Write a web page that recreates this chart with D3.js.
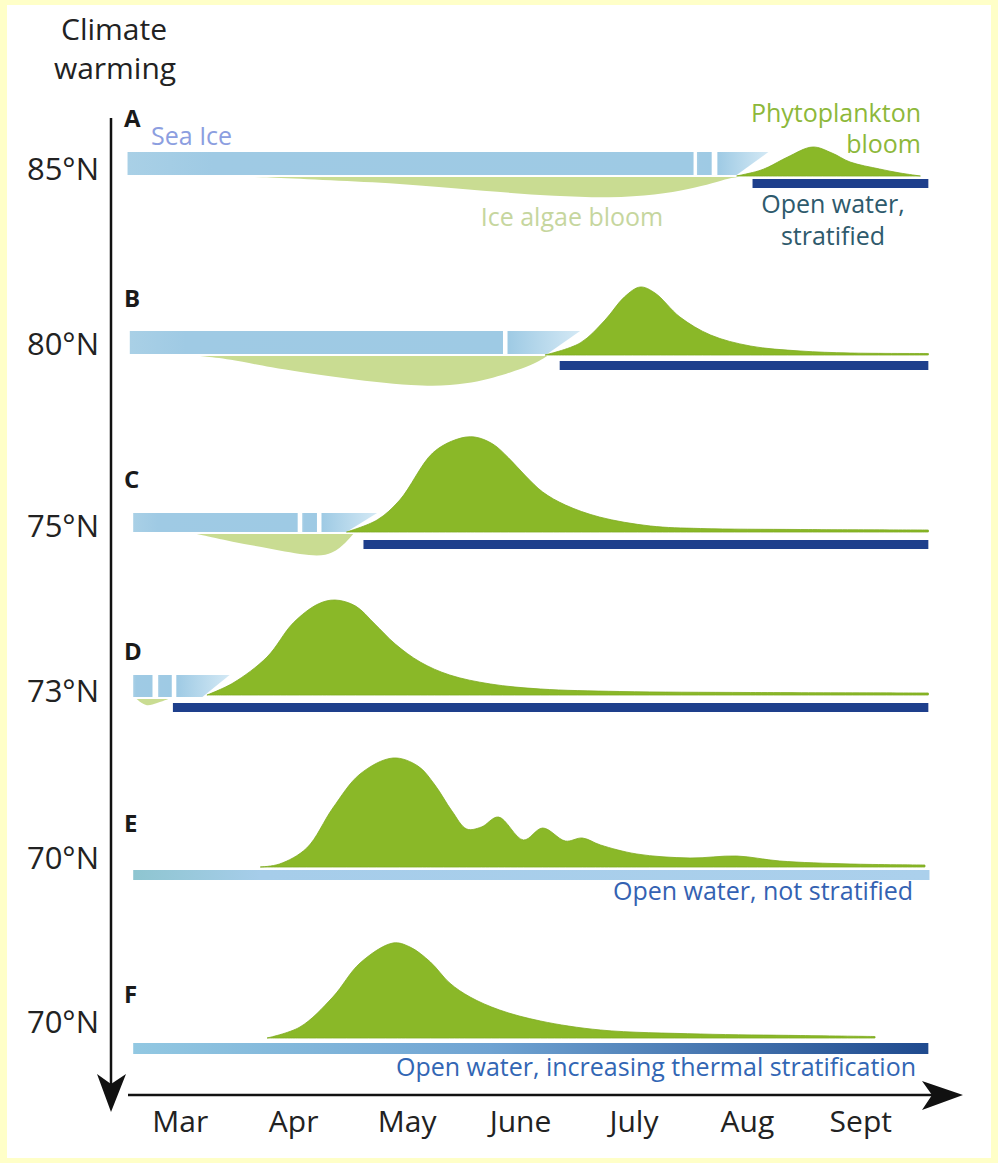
<!DOCTYPE html>
<html>
<head>
<meta charset="utf-8">
<script src="https://cdn.jsdelivr.net/npm/d3@7/dist/d3.min.js"></script>
<style>
body{margin:0;background:#fff;}
svg text{font-family:"Open Sans","DejaVu Sans",sans-serif;}
</style>
</head>
<body>
<div id="chart"></div>
<script>
// months on the time axis, value = months since 1 March
var months=["Mar","Apr","May","June","July","Aug","Sept"];
var panels=["A","B","C","D","E","F"];
var latitudes=["85°N","80°N","75°N","73°N","70°N","70°N"];

// phytoplankton bloom: [month, relative biomass]
var phytoA=[[5.41,0],[5.6,5],[5.69,9],[5.86,19],[6.08,29],[6.25,23],[6.41,14],[6.67,7],[6.85,3],[7.03,0]];
var phytoB=[[3.72,0],[4.03,12],[4.25,35],[4.42,58],[4.56,68],[4.69,62],[4.91,38],[5.18,20],[5.53,9],[5.97,4],[6.41,2],[7.10,1.5]];
var phytoC=[[1.97,0],[2.24,12],[2.44,32],[2.73,79],[2.95,93],[3.1,95],[3.26,88],[3.40,74],[3.55,56],[3.70,40],[3.90,27],[4.20,15],[4.65,6],[5.09,3.5],[5.97,2.5],[7.10,2]];
var phytoD=[[0.74,0],[0.97,12],[1.27,38],[1.50,72],[1.72,91],[1.87,95],[2.05,89],[2.22,71],[2.40,51],[2.62,33],[2.88,20],[3.24,11],[3.68,6],[4.38,3.5],[5.53,2.5],[7.10,2]];
var phytoE=[[1.21,0],[1.38,3],[1.62,19],[1.85,59],[2.09,93],[2.38,109],[2.60,101],[2.75,82],[2.90,56],[3.03,38],[3.16,40],[3.31,50],[3.53,27],[3.70,39],[3.90,26],[4.05,29],[4.21,22],[4.53,13],[5.0,9],[5.41,11],[5.79,6],[6.41,3],[7.07,2]];
var phytoF=[[1.27,0],[1.56,11],[1.85,41],[2.09,75],[2.38,95],[2.53,91],[2.71,76],[2.88,55],[3.06,41],[3.32,28],[3.68,17],[4.21,8],[5.09,4],[5.97,2.5],[6.63,1.5]];

// ice algae bloom under the ice: [month, relative biomass]
var algaeA=[[1.16,0],[1.6,2],[2.2,5],[2.8,10],[3.3,15],[3.8,19],[4.3,21],[4.7,18],[5.0,12],[5.2,6],[5.35,1],[5.42,0]];
var algaeB=[[0.68,0],[0.94,3],[1.27,11],[1.85,21],[2.59,31],[3.03,29],[3.41,17],[3.61,9],[3.74,0]];
var algaeC=[[0.65,0],[0.97,8],[1.27,14],[1.68,23],[1.85,20],[1.97,8],[2.03,0]];
var algaeD=[[0.12,0],[0.2,8],[0.3,4],[0.4,0]];

// sea ice pieces [start, end]; last piece melts: [start, end at top, end at bottom]
var iceA=[[0.04,5.03],[5.06,5.19],[5.24,5.69,5.41]];
var iceB=[[0.06,3.35],[3.39,4.03,3.74]];
var iceC=[[0.09,1.54],[1.58,1.71],[1.75,2.24,1.97]];
var iceD=[[0.09,0.26],[0.31,0.43],[0.47,0.94,0.70]];
var iceE=[];
var iceF=[];

// open water [start, end]
var waterA=[5.55,7.10];
var waterB=[3.85,7.10];
var waterC=[2.12,7.10];
var waterD=[0.44,7.10];
var waterE=[0.09,7.11];
var waterF=[0.09,7.10];

var phyto=[phytoA,phytoB,phytoC,phytoD,phytoE,phytoF];
var algae=[algaeA,algaeB,algaeC,algaeD,[],[]];
var ice=[iceA,iceB,iceC,iceD,iceE,iceF];
var water=[waterA,waterB,waterC,waterD,waterE,waterF];
var waterKind=["strat","strat","strat","strat","mixed","warm"];

// layout of each row (pixels)
var rows=[
	{base:176,iceTop:152,iceBot:175,wTop:179,wBot:188,letterY:127,latY:180},
	{base:355,iceTop:331,iceBot:354,wTop:361,wBot:370,letterY:307,latY:355},
	{base:532,iceTop:513,iceBot:532,wTop:540,wBot:549,letterY:488,latY:537},
	{base:695,iceTop:675,iceBot:697,wTop:703,wBot:712,letterY:660,latY:702},
	{base:867,iceTop:0,iceBot:0,wTop:870,wBot:880,letterY:832,latY:869},
	{base:1038,iceTop:0,iceBot:0,wTop:1043,wBot:1054,letterY:1003,latY:1033}
];

var W=998,H=1163;
var svg=d3.select("#chart").append("svg").attr("width",W).attr("height",H);

// frame
svg.append("rect").attr("width",W).attr("height",H).attr("fill","#ffffc8");
svg.append("rect").attr("x",7).attr("y",5).attr("width",W-14).attr("height",H-10).attr("fill","#fff");

var x=d3.scaleLinear().domain([0,7]).range([123,917]);
var h=d3.scaleLinear().domain([0,100]).range([0,100]);

var defs=svg.append("defs");
function grad(id,stops){
	var g=defs.append("linearGradient").attr("id",id);
	stops.forEach(function(s){
		g.append("stop").attr("offset",s[0]).attr("stop-color",s[1]);
	});
}
grad("iceg",[[0,"#a9d0e6"],[0.15,"#9fcae4"],[1,"#9ecae4"]]);
grad("melt",[[0,"#9ecae4"],[1,"#d4e9f5"]]);
grad("mixed",[[0,"#8ec5d0"],[0.16,"#a6cdea"],[1,"#abd0ec"]]);
grad("warm",[[0,"#92c8e2"],[0.45,"#6fa3d2"],[1,"#1f4a8e"]]);

var phytoColor="#8ab828",algaeColor="#c9dc92",stratColor="#1e3f8c";

function drawRow(i){
	var r=rows[i];
	var g=svg.append("g").attr("class","row_"+panels[i]);
	// ice
	ice[i].forEach(function(p){
		if(p.length==2){
			g.append("rect")
			 .attr("x",x(p[0])).attr("y",r.iceTop)
			 .attr("width",x(p[1])-x(p[0])).attr("height",r.iceBot-r.iceTop)
			 .attr("fill","url(#iceg)");
		}else{
			var pts=[[x(p[0]),r.iceTop],[x(p[1]),r.iceTop],[x(p[2]),r.iceBot],[x(p[0]),r.iceBot]];
			g.append("polygon").attr("points",pts.join(" ")).attr("fill","url(#melt)");
		}
	});
	// ice algae
	if(algae[i].length){
		var aArea=d3.area().curve(d3.curveBasis)
			.x(function(d){return x(d[0]);})
			.y0(r.iceBot+2)
			.y1(function(d){return r.iceBot+2+h(d[1]);});
		g.append("path").attr("d",aArea(algae[i])).attr("fill",algaeColor);
	}
	// open water
	var w=water[i];
	var fill=waterKind[i]=="strat"?stratColor:(waterKind[i]=="mixed"?"url(#mixed)":"url(#warm)");
	g.append("rect").attr("x",x(w[0])).attr("y",r.wTop)
	 .attr("width",x(w[1])-x(w[0])).attr("height",r.wBot-r.wTop).attr("fill",fill);
	// phytoplankton
	var pArea=d3.area().curve(d3.curveCatmullRom.alpha(0.5))
		.x(function(d){return x(d[0]);})
		.y0(r.base)
		.y1(function(d){return r.base-h(d[1]);});
	g.append("path").attr("d",pArea(phyto[i])).attr("fill",phytoColor)
	 .attr("stroke","#7fab20").attr("stroke-width",0.8);
	// labels
	g.append("text").attr("x",124).attr("y",r.letterY).text(panels[i])
	 .attr("font-size",24).attr("font-weight","bold").attr("fill","#1a1a1a");
	g.append("text").attr("x",99).attr("y",r.latY).attr("text-anchor","end").text(latitudes[i])
	 .attr("font-size",31).attr("fill","#222");
}
for(var i=0;i<6;i++){drawRow(i);}

// annotations
function label(t,xx,yy,size,color,anchor){
	svg.append("text").attr("x",xx).attr("y",yy).text(t)
	   .attr("font-size",size).attr("fill",color).attr("text-anchor",anchor||"start");
}
label("Sea Ice",151,145,25,"#8c9ee0");
label("Phytoplankton",921,122,25,"#8db83a","end");
label("bloom",921,153,25,"#8db83a","end");
label("Ice algae bloom",572,226,25,"#c6d69e","middle");
label("Open water,",833,213,25,"#2e5a6c","middle");
label("stratified",833,245,25,"#2e5a6c","middle");
label("Open water, not stratified",763,900,25,"#3462b2","middle");
label("Open water, increasing thermal stratification",656,1076,25,"#3266b4","middle");
label("Climate",114,40,30,"#222","middle");
label("warming",115,79,30,"#222","middle");

// axes
svg.append("line").attr("x1",111).attr("y1",118).attr("x2",111).attr("y2",1086)
   .attr("stroke","#111").attr("stroke-width",2.5);
svg.append("polygon").attr("points","111,1112 97,1074 111,1084 126,1074").attr("fill","#111");
svg.append("line").attr("x1",128).attr("y1",1095).attr("x2",935).attr("y2",1095)
   .attr("stroke","#111").attr("stroke-width",2.5);
svg.append("polygon").attr("points","963,1095 922,1081 932,1095 922,1110").attr("fill","#111");

var xAxis=d3.axisBottom(x)
	.tickValues(months.map(function(d,i){return i+0.5;}))
	.tickFormat(function(d,i){return months[i];})
	.tickSize(0);
var ax=svg.append("g").attr("transform","translate(0,1132)").call(xAxis);
ax.select(".domain").remove();
ax.selectAll("text").attr("y",0).attr("dy",0)
  .attr("font-size",30).attr("fill","#222")
  .style("font-family","'Open Sans','DejaVu Sans',sans-serif");
</script>
</body>
</html>
